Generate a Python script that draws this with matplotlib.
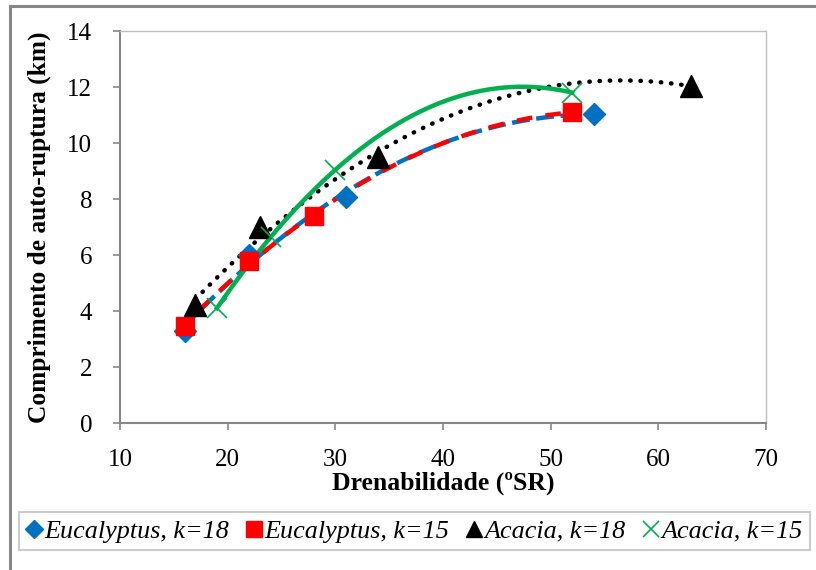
import numpy as np
import matplotlib
matplotlib.use("Agg")
import matplotlib.pyplot as plt
from matplotlib.lines import Line2D
from matplotlib.patches import Rectangle

plt.rcParams['font.family'] = ['Liberation Serif', 'DejaVu Serif']

# Data
euc18_x = [16, 22, 31, 54]
euc18_y = [3.3, 6.0, 8.07, 11.04]
euc15_x = [16, 22, 28, 52]
euc15_y = [3.45, 5.8, 7.38, 11.1]
aca18_x = [17, 23, 34, 63]
aca18_y = [4.2, 7.0, 9.5, 12.05]
aca15_x = [19, 24, 30, 52]
aca15_y = [4.1, 6.65, 9.04, 11.8]

labels = ["Eucalyptus, k=18", "Eucalyptus, k=15", "Acacia, k=18", "Acacia, k=15"]
xticks = [10, 20, 30, 40, 50, 60, 70]
yticks = [0, 2, 4, 6, 8, 10, 12, 14]

BLUE = '#0070C0'
RED = '#FF0000'
BLACK = '#000000'
GREEN = '#00B050'
GRAY = '#868686'

fig = plt.figure(figsize=(8.16, 5.70), dpi=100)
W, H = 816, 570
ax = fig.add_axes([120 / W, (H - 423) / H, (766 - 120) / W, (423 - 31) / H])

def trend(x, y):
    c = np.polyfit(x, y, 2)
    xs = np.linspace(min(x), max(x), 200)
    return xs, np.polyval(c, xs)

# trendlines
xs, ys = trend(aca18_x, aca18_y)
ax.plot(xs, ys, color=BLACK, lw=3.2, linestyle=(0, (0.1, 2.2)), dash_capstyle='round', zorder=2)
xs, ys = trend(euc18_x, euc18_y)
ax.plot(xs, ys, color=BLUE, lw=3.2, linestyle=(0, (4, 1.5)), zorder=2)
xs, ys = trend(euc15_x, euc15_y)
ax.plot(xs, ys, color=RED, lw=3.2, linestyle=(2, (3.5, 3)), zorder=2.1)
xs, ys = trend(aca15_x, aca15_y)
ax.plot(xs, ys, color=GREEN, lw=3.2, linestyle='-', zorder=2.2)

# markers
ax.plot(euc18_x, euc18_y, linestyle='none', marker='D', ms=11, color=BLUE, mec=BLUE, zorder=3)
ax.plot(euc15_x, euc15_y, linestyle='none', marker='s', ms=13.5, color=RED, mec=RED, zorder=3.1)
ax.plot(aca18_x, aca18_y, linestyle='none', marker='^', ms=16, color=BLACK, mec=BLACK, zorder=3.2)
ax.plot(aca15_x, aca15_y, linestyle='none', marker='x', ms=14, color=GREEN, mew=1.2, zorder=3.3)

ax.set_xlim(10, 70)
ax.set_ylim(0, 14)
ax.set_xticks(xticks)
ax.set_yticks(yticks)
ax.tick_params(axis='both', direction='out', length=5, width=1.2, color=GRAY,
               labelsize=18)
ax.tick_params(axis='x', pad=14)
ax.tick_params(axis='y', pad=15)
for s in ['top', 'right']:
    ax.spines[s].set_color('#BFBFBF')
    ax.spines[s].set_linewidth(1)
for s in ['left', 'bottom']:
    ax.spines[s].set_color(GRAY)
    ax.spines[s].set_linewidth(1.5)

ax.set_xlabel('Drenabilidade (ºSR)', fontsize=18.5, fontweight='bold', labelpad=0)
ax.set_ylabel('Comprimento de auto-ruptura (km)', fontsize=18.3, fontweight='bold', labelpad=12)

# legend
handles = [
    Line2D([], [], linestyle='none', marker='D', ms=9, color=BLUE),
    Line2D([], [], linestyle='none', marker='s', ms=11, color=RED),
    Line2D([], [], linestyle='none', marker='^', ms=11, color=BLACK),
    Line2D([], [], linestyle='none', marker='x', ms=12, color=GREEN, mew=1.2),
]
leg = fig.legend(handles, labels, ncol=4, loc='center',
                 bbox_to_anchor=(414.5 / W, (H - 531) / H),
                 prop={'family': 'Liberation Serif', 'style': 'italic', 'size': 18.8},
                 frameon=True, fancybox=False, edgecolor='#BFBFBF',
                 handlelength=0.6, handletextpad=0.1, columnspacing=0.65,
                 borderpad=0.3, borderaxespad=0)
leg.get_frame().set_linewidth(1.5)

# chart-area border
fig.patches.append(Rectangle((10 / W, -0.05), 1.2, (H - 6) / H + 0.05,
                             transform=fig.transFigure, fill=False,
                             edgecolor=GRAY, linewidth=2.2, zorder=-1))

fig.savefig('out.png', dpi=100)
